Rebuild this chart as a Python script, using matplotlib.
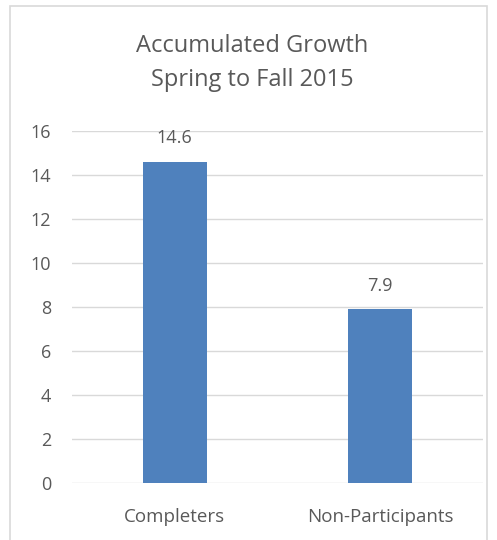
import matplotlib
matplotlib.use("Agg")
import matplotlib.pyplot as plt
from matplotlib.patches import Rectangle

categories = ["Completers", "Non-Participants"]
values = [14.6, 7.9]
yticks = [0, 2, 4, 6, 8, 10, 12, 14, 16]
title = "Accumulated Growth\nSpring to Fall 2015"

plt.rcParams['font.family'] = ['Open Sans', 'DejaVu Sans']
gray = '#595959'

fig = plt.figure(figsize=(4.97, 5.40), dpi=100)
fig.patches.append(Rectangle((10/497, -0.05), (487-10)/497, 1.05 - 6/540,
                             transform=fig.transFigure, fill=False,
                             edgecolor='#d9d9d9', linewidth=1.2))
ax = fig.add_axes([72/497, 1-483/540, (483-72)/497, (483-131)/540])
x = list(range(len(categories)))
bars = ax.bar(x, values, width=0.31, color='#4F81BD', zorder=3)
ax.set_xlim(-0.5, 1.5)
ax.set_ylim(0, 16)
ax.set_yticks(yticks)
ax.set_yticklabels([str(t) for t in yticks], fontsize=13, color=gray)
ax.set_xticks(x)
ax.set_xticklabels(categories, fontsize=13.5, color=gray)
ax.tick_params(axis='both', length=0)
ax.tick_params(axis='y', pad=15)
ax.tick_params(axis='x', pad=18)
ax.grid(axis='y', color='#d9d9d9', linewidth=1, zorder=0)
for s in ax.spines.values():
    s.set_visible(False)
for xi, v in zip(x, values):
    ax.annotate(f"{v}", (xi, v), xytext=(0, 17), textcoords='offset points',
                ha='center', va='center', fontsize=13, color=gray)
fig.text(252/497, 1-63/540, title, ha='center', va='center', fontsize=17,
         color=gray, linespacing=1.55)
fig.savefig("out.png", dpi=100)
